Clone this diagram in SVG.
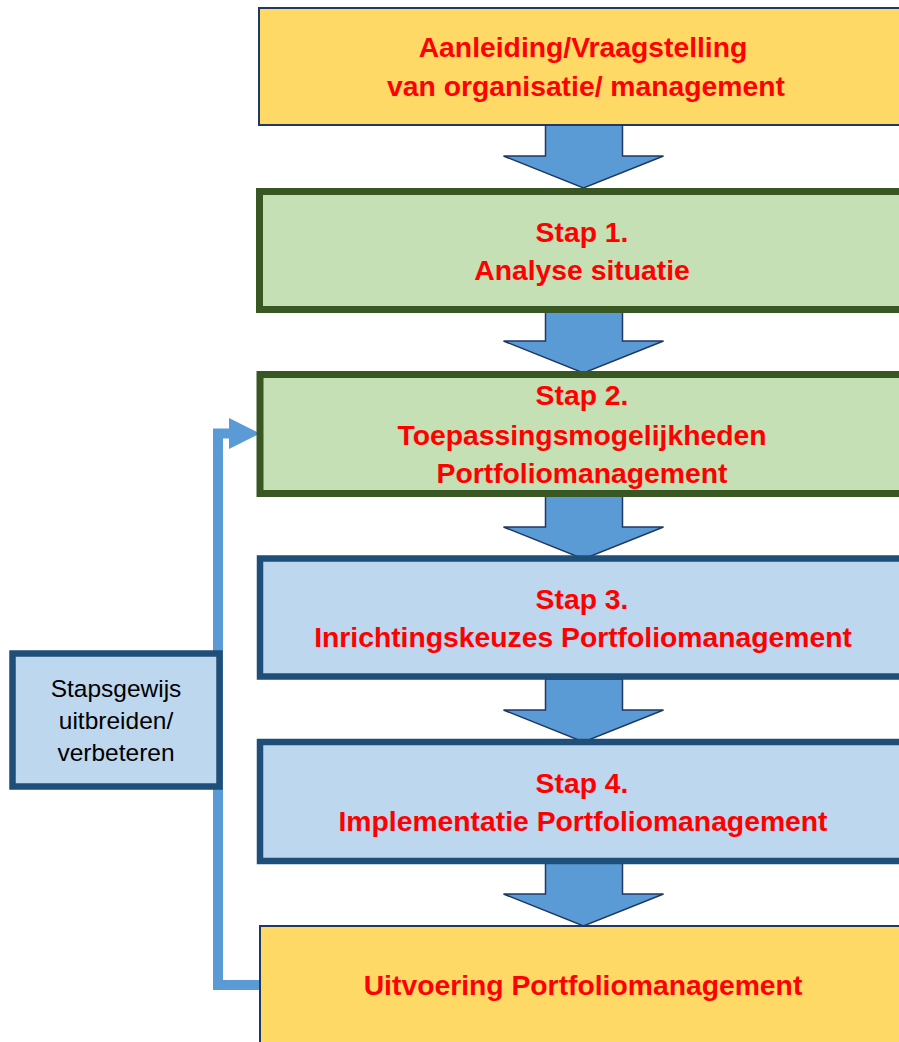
<svg xmlns="http://www.w3.org/2000/svg" width="899" height="1042" viewBox="0 0 899 1042">
<style>
.t{font-family:"Liberation Sans",Arial,sans-serif;font-weight:bold;font-size:28.3px;fill:#ff0000;text-anchor:middle}
.s{font-family:"Liberation Sans",Arial,sans-serif;font-size:24.5px;fill:#000;text-anchor:middle}
.y{fill:#ffd966;stroke:#203864;stroke-width:2}
.g{fill:#c5e0b4;stroke:#385723;stroke-width:7}
.b{fill:#bdd7ee;stroke:#1f4e79;stroke-width:6.5}
.ar{fill:#5b9bd5;stroke:#1f3864;stroke-width:1.5;stroke-linejoin:miter}
</style>
<defs>
<path id="dn" d="M-38,0 H39 V31 H80 L0,63 L-80,31 H-38 Z"/>
</defs>
<rect width="899" height="1042" fill="#ffffff"/>
<g id="connectors">
<path d="M260,985 H218 V433.5 H232" fill="none" stroke="#5b9bd5" stroke-width="10"/>
<polygon points="229,418 260,433.5 229,449" fill="#5b9bd5"/>
<use href="#dn" x="583.5" y="125" class="ar"/>
<use href="#dn" x="583.5" y="310" class="ar"/>
<use href="#dn" x="583.5" y="496" class="ar"/>
<use href="#dn" x="583.5" y="679" class="ar"/>
<use href="#dn" x="583.5" y="863" class="ar"/>
</g>
<g id="node-aanleiding">
<rect class="y" x="259" y="8" width="650" height="117"/>
<text class="t" x="583" y="57">Aanleiding/Vraagstelling</text>
<text class="t" x="586" y="96">van organisatie/ management</text>
</g>
<g id="node-stap1">
<rect class="g" x="259.5" y="191.5" width="650" height="118"/>
<text class="t" x="582" y="242">Stap 1.</text>
<text class="t" x="582" y="280">Analyse situatie</text>
</g>
<g id="node-stap2">
<rect class="g" x="260" y="374.5" width="650" height="119"/>
<text class="t" x="582" y="405">Stap 2.</text>
<text class="t" x="582" y="445">Toepassingsmogelijkheden</text>
<text class="t" x="582" y="483">Portfoliomanagement</text>
</g>
<g id="node-stap3">
<rect class="b" x="260" y="558.5" width="650" height="118"/>
<text class="t" x="582" y="609">Stap 3.</text>
<text class="t" x="583" y="647">Inrichtingskeuzes Portfoliomanagement</text>
</g>
<g id="node-stap4">
<rect class="b" x="260" y="742" width="650" height="119"/>
<text class="t" x="582" y="793">Stap 4.</text>
<text class="t" x="583" y="831">Implementatie Portfoliomanagement</text>
</g>
<g id="node-uitvoering">
<rect class="y" x="260" y="926" width="650" height="130"/>
<text class="t" x="583" y="995">Uitvoering Portfoliomanagement</text>
</g>
<g id="node-stapsgewijs">
<rect class="b" x="12.5" y="653.5" width="207" height="133" stroke-width="7"/>
<text class="s" x="116" y="697">Stapsgewijs</text>
<text class="s" x="116" y="729">uitbreiden/</text>
<text class="s" x="116" y="761">verbeteren</text>
</g>
</svg>
